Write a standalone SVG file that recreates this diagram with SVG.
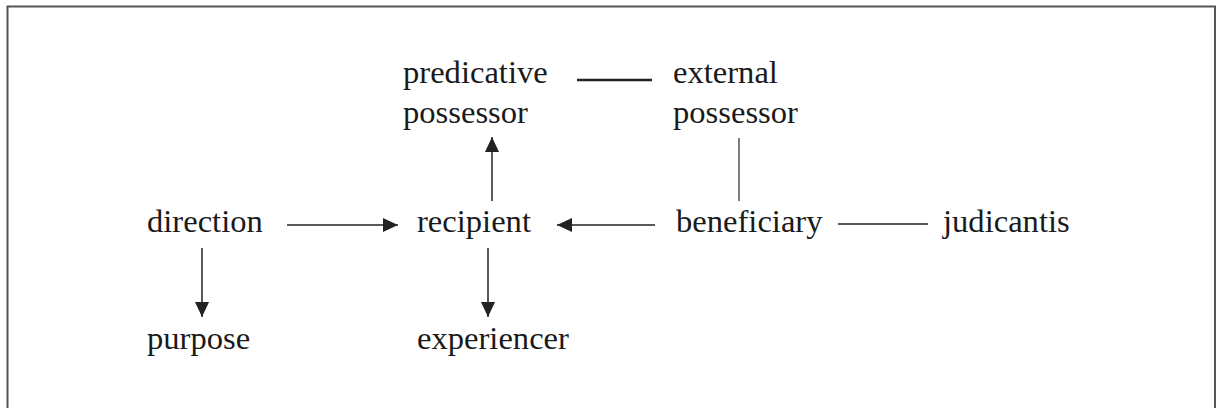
<svg xmlns="http://www.w3.org/2000/svg" width="1220" height="408" viewBox="0 0 1220 408">
<defs>
<style>
text{font-family:"Liberation Serif","Times New Roman",serif;font-size:32.6px;fill:#1a1a1a}
.c{stroke:#222;stroke-width:1.5;fill:none}
.thick{stroke-width:2.6}
.grey{stroke:#555}
</style>
<marker id="ah" viewBox="0 0 10 10" refX="10" refY="5" markerWidth="15" markerHeight="14" markerUnits="userSpaceOnUse" orient="auto" preserveAspectRatio="none"><path d="M0,0 L10,5 L0,10 Z" fill="#222"/></marker>
</defs>
<rect width="1220" height="408" fill="#fff"/>
<path d="M7.5,408 V6.5 H1215 V408" fill="none" stroke="#555" stroke-width="2"/>
<g id="connectors">
<line class="c thick" x1="577" y1="80" x2="652" y2="80"/>
<line class="c" x1="492" y1="201" x2="492" y2="137" marker-end="url(#ah)"/>
<line class="c grey" x1="739" y1="138" x2="739" y2="201"/>
<line class="c" x1="287" y1="225" x2="398" y2="225" marker-end="url(#ah)"/>
<line class="c" x1="655" y1="225" x2="557" y2="225" marker-end="url(#ah)"/>
<line class="c" x1="838" y1="224" x2="928" y2="224"/>
<line class="c" x1="202" y1="248" x2="202" y2="317" marker-end="url(#ah)"/>
<line class="c" x1="488" y1="248" x2="488" y2="317" marker-end="url(#ah)"/>
</g>
<g id="predicative-possessor"><text x="403" y="83">predicative</text><text x="403" y="123">possessor</text></g>
<g id="external-possessor"><text x="673" y="83">external</text><text x="673" y="123">possessor</text></g>
<g id="direction"><text x="147" y="232">direction</text></g>
<g id="recipient"><text x="417" y="232">recipient</text></g>
<g id="beneficiary"><text x="676" y="232">beneficiary</text></g>
<g id="judicantis"><text x="943" y="232">judicantis</text></g>
<g id="purpose"><text x="147" y="349">purpose</text></g>
<g id="experiencer"><text x="417" y="349">experiencer</text></g>
</svg>
